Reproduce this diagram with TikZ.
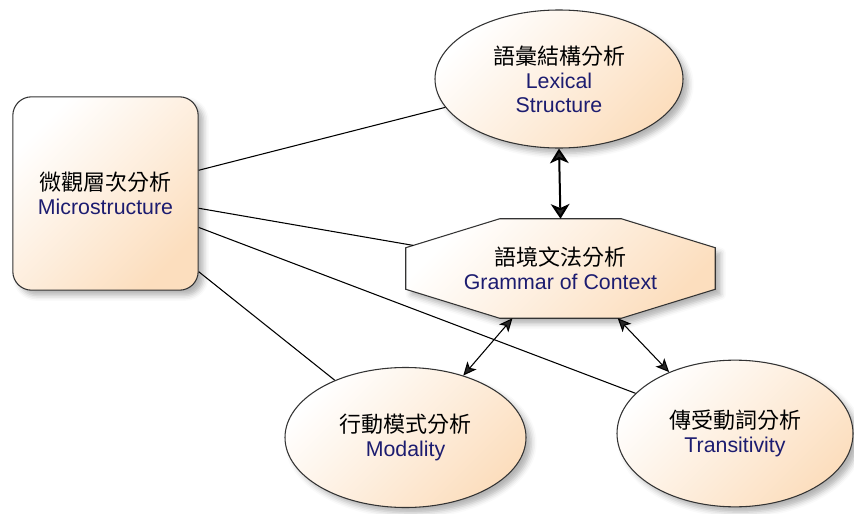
\documentclass[tikz,border=0pt]{standalone}
\usepackage{fontspec}
\setmainfont{Liberation Sans}
\newfontfamily\cjk{Noto Sans CJK TC}
\usetikzlibrary{arrows.meta}
\usetikzlibrary{shapes.geometric}
\usetikzlibrary{shadows.blur}
\usetikzlibrary{calc}
\definecolor{peach}{RGB}{252,222,190}
\definecolor{engblue}{RGB}{28,28,112}
\newcommand{\zh}[1]{{\cjk\fontsize{16.5}{18}\selectfont #1}}
\newcommand{\en}[1]{\textcolor{engblue}{#1}}
\tikzset{unit/.style = {draw = black!80, line width = 0.8pt, align = center, inner sep = 0,
                        top color = white, bottom color = peach, shading angle = 45,
                        blur shadow = {shadow xshift = 4pt, shadow yshift = -4pt,
                                       shadow blur radius = 4pt, shadow opacity = 30},
                        font = \fontsize{16}{18}\selectfont}}
\tikzset{oval/.style = {unit, ellipse}}
\tikzset{label/.style = {align = center, inner sep = 0, font = \fontsize{16}{18}\selectfont}}
\tikzset{link/.style = {line width = 0.8pt}}
\tikzset{twoway/.style = {line width = 0.8pt,
                          {Stealth[length = 10pt, width = 9pt, inset = 2.5pt]}-{Stealth[length = 10pt, width = 9pt, inset = 2.5pt]}}}
\tikzset{twowaybold/.style = {line width = 1.5pt,
                              {Stealth[length = 11pt, width = 14pt, inset = 3pt]}-{Stealth[length = 11pt, width = 14pt, inset = 3pt]}}}

\begin{document}
\begin{tikzpicture}[x = 0.75pt, y = -0.75pt]
      \useasboundingbox (0, 0) rectangle (854, 514);

      \node [unit, rectangle, rounded corners = 14pt, minimum width = 139pt, minimum height = 145pt]
            (micro) at (105.5, 193.5) {\zh{微觀層次分析}\\\en{Microstructure}};
      \node [oval, minimum width = 186pt, minimum height = 103.5pt]
            (lexis) at (559, 79) {\zh{語彙結構分析}\\\en{Lexical}\\\en{Structure}};
      \node [oval, minimum width = 180.75pt, minimum height = 105pt]
            (modal) at (405.5, 437.5) {\zh{行動模式分析}\\\en{Modality}};
      \node [oval, minimum width = 177pt, minimum height = 110pt]
            (trans) at (735, 433.5) {\zh{傳受動詞分析}\\\en{Transitivity}};

      \node [inner sep = 0, minimum width = 231.75pt, minimum height = 74.25pt] (context) at (560.5, 268.5) {};
      \coordinate (ctxwn) at ([yshift = -21.75pt] context.north west);
      \coordinate (ctxnw) at ([xshift = 70.5pt] context.north west);
      \coordinate (ctxne) at ([xshift = -70.5pt] context.north east);
      \coordinate (ctxen) at ([yshift = -21.75pt] context.north east);
      \coordinate (ctxes) at ([yshift = 21.75pt] context.south east);
      \coordinate (ctxse) at ([xshift = -70.5pt] context.south east);
      \coordinate (ctxsw) at ([xshift = 70.5pt] context.south west);
      \coordinate (ctxws) at ([yshift = 21.75pt] context.south west);
      \path [unit] (ctxwn) -- (ctxnw) -- (ctxne) -- (ctxen) -- (ctxes) -- (ctxse) -- (ctxsw) -- (ctxws) -- cycle;
      \node [label] (contexttext) at (context.center) {\zh{語境文法分析}\\\en{Grammar of Context}};

      \draw [link] (micro.14) -- (lexis.194);
      \draw [link] (micro.-9) -- ($(ctxwn)!0.08!(ctxnw)$);
      \draw [link] (micro.-20) -- (trans.158);
      \draw [link] (micro.-40) -- (modal.141);

      \draw [twowaybold] (lexis.south) -- (context.north);
      \draw [twoway] (context.226) -- (modal.47);
      \draw [twoway] (context.-41) -- (trans.137);
    \end{tikzpicture}
\end{document}
